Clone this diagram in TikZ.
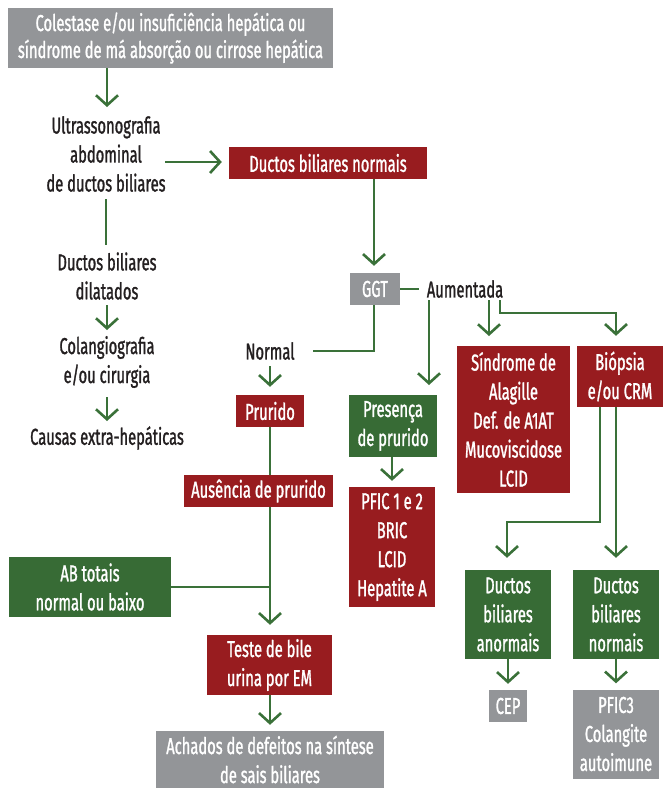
\documentclass[tikz,border=0pt]{standalone}
\usepackage{fontspec}
\setmainfont{Fira Sans}[FakeStretch=0.64, FakeBold=1.2]
\usetikzlibrary{arrows.meta,calc}
\definecolor{boxred}{HTML}{981C1F}
\definecolor{boxgreen}{HTML}{376B35}
\definecolor{boxgray}{HTML}{939598}
\definecolor{linegreen}{HTML}{3A7139}
\definecolor{ink}{HTML}{231F20}
\begin{document}
\begin{tikzpicture}[x=1pt,y=-1pt,
  every node/.style={font=\fontsize{23}{29}\selectfont, align=center, inner sep=0pt},
  box/.style={rectangle, text=white},
  redbox/.style={box, fill=boxred},
  greenbox/.style={box, fill=boxgreen},
  graybox/.style={box, fill=boxgray},
  plain/.style={text=ink, inner sep=3pt},
  link/.style={draw=linegreen, line width=2.6pt},
  arr/.style={link, -{Straight Barb[length=10pt,width=22pt]}}
]
\useasboundingbox (0,0) rectangle (663,788);

% boxes and labels
\node[graybox, minimum width=325pt, minimum height=60pt, font=\fontsize{23}{27}\selectfont] (top) at (170.5,38)
  {Colestase e/ou insuficiência hepática ou\\síndrome de má absorção ou cirrose hepática};
\node[plain] (ultra) at (106,154) {Ultrassonografia\\abdominal\\de ductos biliares};
\node[redbox, minimum width=198pt, minimum height=32pt] (dbn) at (328,163) {Ductos biliares normais};
\node[plain] (dil) at (107,276) {Ductos biliares\\dilatados};
\node[plain] (col) at (107,362) {Colangiografia\\e/ou cirurgia};
\node[plain] (ext) at (107,438) {Causas extra-hepáticas};

\node[graybox, minimum width=50pt, minimum height=32pt] (ggt) at (375,289) {GGT};
\node[plain] (aum) at (465,289) {Aumentada};
\node[plain] (normal) at (270,351) {Normal};

\node[redbox, minimum width=68pt, minimum height=32pt] (prur) at (270,411) {Prurido};
\node[redbox, minimum width=149pt, minimum height=32pt] (aus) at (258.5,491) {Ausência de prurido};
\node[greenbox, minimum width=162pt, minimum height=60pt] (ab) at (90,587) {AB totais\\normal ou baixo};
\node[redbox, minimum width=125pt, minimum height=60pt] (teste) at (269.5,665) {Teste de bile\\urina por EM};
\node[graybox, minimum width=228pt, minimum height=57pt] (ach) at (270,759.5) {Achados de defeitos na síntese\\de sais biliares};

\node[greenbox, minimum width=88pt, minimum height=62pt] (pres) at (393,426) {Presença\\de prurido};
\node[redbox, minimum width=86pt, minimum height=120pt] (pfic) at (392,547) {PFIC 1 e 2\\BRIC\\LCID\\Hepatite A};
\node[redbox, minimum width=113pt, minimum height=147pt] (sind) at (513.5,419.5)
  {Síndrome de\\Alagille\\Def. de A1AT\\Mucoviscidose\\LCID};
\node[redbox, minimum width=86pt, minimum height=61pt] (biop) at (620,376.5) {Biópsia\\e/ou CRM};
\node[greenbox, minimum width=86pt, minimum height=89pt] (anorm) at (508,614.5) {Ductos\\biliares\\anormais};
\node[greenbox, minimum width=86pt, minimum height=89pt] (norm) at (616,614.5) {Ductos\\biliares\\normais};
\node[graybox, minimum width=38pt, minimum height=32pt] (cep) at (508,706) {CEP};
\node[graybox, minimum width=86pt, minimum height=89pt] (pfictres) at (616,734) {PFIC3\\Colangite\\autoimune};

% junction points
\coordinate (ultraout) at (165,162);
\coordinate (ultradown) at (106,199);
\coordinate (dilup) at (106,245);
\coordinate (ggtbend) at (374,351);
\coordinate (normalend) at (313,351);
\coordinate (abjoin) at (270,587);
\coordinate (aumA) at (429,300);
\coordinate (aumB) at (489,300);
\coordinate (aumC) at (500,300);
\coordinate (biopA) at (600,407);
\coordinate (biopB) at (616,407);

% connectors
\draw[arr] (top.south -| 107,0) -- (107,107);
\draw[arr] (ultraout) -- ([xshift=-7pt]dbn.west |- ultraout);
\draw[link] (ultradown) -- (dilup);
\draw[arr] (107,305) -- (107,330);
\draw[arr] (107,397) -- (107,421);

\draw[arr] (dbn.south -| 374,0) -- ([yshift=7pt]ggt.north -| 374,0);
\draw[link] (ggt.east) -- (419,289);
\draw[arr] (aumA) -- (429,385);
\draw[arr] (aumB) -- (489,336);
\draw[arr] (aumC) -- (500,313) -- (616,313) -- ([yshift=10pt]biop.north -| 616,0);

\draw[link] (ggt.south -| 374,0) -- (ggtbend) -- (normalend);
\draw[arr] (270,366) -- ([yshift=8pt]prur.north);
\draw[link] (prur.south) -- (aus.north -| prur);
\draw[arr] (aus.south -| prur) -- ([yshift=10pt]teste.north -| prur);
\draw[link] (ab.east) -- (abjoin);
\draw[arr] (teste.south -| prur) -- ([yshift=6pt]ach.north);

\draw[arr] (pres.south -| 392,0) -- ([yshift=6pt]pfic.north);
\draw[arr] (biopA) -- (600,522) -- (507,522) -- ([yshift=12pt]anorm.north -| 507,0);
\draw[arr] (biopB) -- ([yshift=12pt]norm.north);
\draw[arr] (anorm.south) -- ([yshift=6pt]cep.north);
\draw[arr] (norm.south) -- ([yshift=6pt]pfictres.north);
\end{tikzpicture}
\end{document}
